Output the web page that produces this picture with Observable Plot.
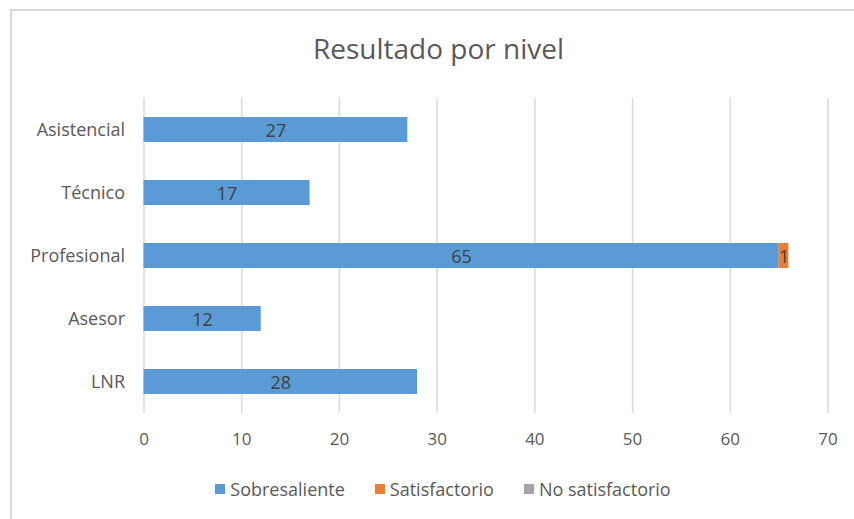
<!DOCTYPE html>
<html>
<head>
<meta charset="utf-8">
<script src="https://cdn.jsdelivr.net/npm/d3@7"></script>
<script src="https://cdn.jsdelivr.net/npm/@observablehq/plot@0.6"></script>
<style>
  html, body { margin: 0; padding: 0; background: #fff; }
  #wrap { position: relative; width: 854px; height: 519px; overflow: hidden; font-family: "Open Sans", sans-serif; }
  #frame { position: absolute; left: 10px; top: 9px; width: 900px; height: 600px; border-left: 2px solid #d9d9d9; border-top: 2px solid #d9d9d9; box-sizing: border-box; }
  #title { position: absolute; left: 0; width: 877px; top: 29px; text-align: center; font-size: 28px; color: #595959; }
  #chart { position: absolute; left: 0; top: 0; }
  #legend { position: absolute; left: 0; width: 886px; top: 477px; display: flex; justify-content: center; gap: 30px; font-size: 18px; color: #595959; }
  #legend span.item { display: inline-flex; align-items: center; }
  #legend span.sw { display: inline-block; width: 10px; height: 10px; margin-right: 5px; }
</style>
</head>
<body>
<div id="wrap">
  <div id="frame"></div>
  <div id="chart"></div>
  <div id="title">Resultado por nivel</div>
  <div id="legend"></div>
</div>
<script>
const categories = ["Asistencial", "Técnico", "Profesional", "Asesor", "LNR"];
const seriesNames = ["Sobresaliente", "Satisfactorio", "No satisfactorio"];
const sobresaliente = [27, 17, 65, 12, 28];
const satisfactorio = [0, 0, 1, 0, 0];
const noSatisfactorio = [0, 0, 0, 0, 0];
const seriesColors = ["#5B9BD5", "#ED7D31", "#A5A5A5"];
const xTicks = [0, 10, 20, 30, 40, 50, 60, 70];

const seriesValues = [sobresaliente, satisfactorio, noSatisfactorio];
const data = [];
seriesNames.forEach((s, si) => {
  categories.forEach((c, ci) => {
    data.push({ nivel: c, serie: s, valor: seriesValues[si][ci] });
  });
});

const chart = Plot.plot({
  width: 854,
  height: 519,
  marginTop: 98,
  marginBottom: 106,
  marginLeft: 143.5,
  marginRight: 26.5,
  style: { fontFamily: "Open Sans, sans-serif", color: "#595959", background: "transparent" },
  x: { domain: [0, 70], ticks: xTicks, label: null, tickSize: 0, tickPadding: 20, tickFormat: d => String(d) },
  y: { domain: categories, paddingInner: 0.6, paddingOuter: 0.3, label: null, tickSize: 0, tickPadding: 19 },
  color: { domain: seriesNames, range: seriesColors },
  marks: [
    Plot.gridX(xTicks, { stroke: "#d9d9d9", strokeOpacity: 1, strokeWidth: 1.5 }),
    Plot.barX(data, Plot.stackX({ x: "valor", y: "nivel", fill: "serie", order: seriesNames })),
    Plot.text(data.filter(d => d.valor > 0), Plot.stackX({
      x: "valor", y: "nivel", z: "serie", order: seriesNames,
      text: d => String(d.valor), fill: "#404040", fontSize: 18, dy: 1
    })),
    Plot.axisX({ ticks: xTicks, tickSize: 0, tickPadding: 19, fontSize: 17, fill: "#595959", label: null }),
    Plot.axisY({ tickSize: 0, tickPadding: 19, fontSize: 18, fill: "#595959", label: null })
  ]
});
document.getElementById("chart").appendChild(chart);

const legend = document.getElementById("legend");
seriesNames.forEach((s, i) => {
  const item = document.createElement("span");
  item.className = "item";
  const sw = document.createElement("span");
  sw.className = "sw";
  sw.style.background = seriesColors[i];
  item.appendChild(sw);
  item.appendChild(document.createTextNode(s));
  legend.appendChild(item);
});
</script>
</body>
</html>
